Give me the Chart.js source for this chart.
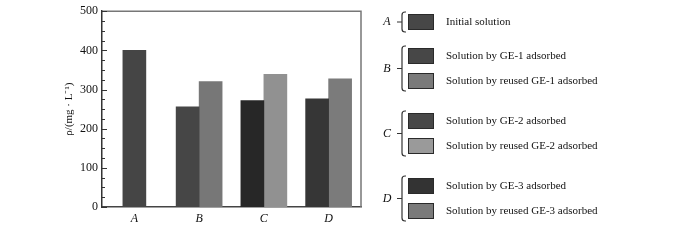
<!DOCTYPE html>
<html>
<head>
<meta charset="utf-8">
<script src="https://cdn.jsdelivr.net/npm/chart.js@4/dist/chart.umd.min.js"></script>
<style>
html, body { margin: 0; padding: 0; background: #fff; }
#wrap { width: 700px; height: 240px; }
</style>
</head>
<body>
<div id="wrap"><canvas id="chart" width="700" height="240"></canvas></div>
<script>
const categories = ['A', 'B', 'C', 'D'];
const adsorbedValues = [400, 256, 272, 276];
const reusedValues = [null, 320, 339, 327];
const adsorbedColors = ['#454545', '#464646', '#272727', '#363636'];
const reusedColors = [null, '#777777', '#919191', '#7b7b7b'];
const yTicks = [0, 100, 200, 300, 400, 500];
const legendLabels = [
    ['Initial solution'],
    ['Solution by GE-1 adsorbed', 'Solution by reused GE-1 adsorbed'],
    ['Solution by GE-2 adsorbed', 'Solution by reused GE-2 adsorbed'],
    ['Solution by GE-3 adsorbed', 'Solution by reused GE-3 adsorbed']
];
const legendSwatches = [
    ['#474747'],
    ['#474747', '#7a7a7a'],
    ['#484848', '#9a9a9a'],
    ['#333333', '#7a7a7a']
];

const serif = '"Liberation Serif", "Times New Roman", serif';

// inner tick marks, top/right frame and the bracketed legend on the right
const framePlugin = {
    id: 'frameAndLegend',
    afterDraw(chart) {
        const ctx = chart.ctx;
        const area = chart.chartArea;
        const y = chart.scales.y;
        ctx.save();

        ctx.strokeStyle = '#777';
        ctx.lineWidth = 1.5;
        ctx.beginPath();
        ctx.moveTo(area.left, area.top);
        ctx.lineTo(area.right, area.top);
        ctx.lineTo(area.right, area.bottom);
        ctx.stroke();

        ctx.strokeStyle = '#333';
        ctx.lineWidth = 1;
        for (let v = 0; v <= 500; v += 25) {
            const py = Math.round(y.getPixelForValue(v)) + 0.5;
            ctx.beginPath();
            ctx.moveTo(area.left, py);
            ctx.lineTo(area.left + (v % 100 === 0 ? 5 : 3), py);
            ctx.stroke();
        }

        const groupTops = [14, 48, 113, 178];
        legendLabels.forEach((labels, gi) => {
            const top = groupTops[gi];
            const bottom = top + (labels.length - 1) * 25 + 16;
            const mid = (top + bottom) / 2;

            ctx.strokeStyle = '#333';
            ctx.lineWidth = 1.2;
            ctx.beginPath();
            ctx.moveTo(406, top - 2);
            ctx.arcTo(402, top - 2, 402, top + 2, 3);
            ctx.lineTo(402, bottom - 2);
            ctx.arcTo(402, bottom + 2, 406, bottom + 2, 3);
            ctx.lineTo(406, bottom + 2);
            ctx.moveTo(402, mid);
            ctx.lineTo(397, mid);
            ctx.stroke();

            ctx.fillStyle = '#111';
            ctx.font = 'italic 12px ' + serif;
            ctx.textAlign = 'center';
            ctx.textBaseline = 'middle';
            ctx.fillText(categories[gi], 387, mid);

            labels.forEach((label, i) => {
                const sy = top + i * 25;
                ctx.fillStyle = legendSwatches[gi][i];
                ctx.fillRect(408, sy, 26, 16);
                ctx.strokeStyle = '#2a2a2a';
                ctx.lineWidth = 1;
                ctx.strokeRect(408.5, sy + 0.5, 25, 15);
                ctx.fillStyle = '#111';
                ctx.font = '11px ' + serif;
                ctx.textAlign = 'left';
                ctx.fillText(label, 446, sy + 8);
            });
        });
        ctx.restore();
    }
};

new Chart(document.getElementById('chart'), {
    type: 'bar',
    data: {
        labels: categories,
        datasets: [
            {
                data: adsorbedValues,
                backgroundColor: adsorbedColors,
                barThickness: 23,
                skipNull: true
            },
            {
                data: reusedValues,
                backgroundColor: reusedColors,
                barThickness: 23,
                skipNull: true
            }
        ]
    },
    options: {
        responsive: false,
        animation: false,
        layout: {
            padding: { left: 58, top: 11, right: 339, bottom: 0 }
        },
        plugins: {
            legend: { display: false },
            tooltip: { enabled: false }
        },
        scales: {
            x: {
                grid: { display: false, drawTicks: false },
                border: { color: '#444', width: 1.5 },
                ticks: {
                    padding: 5,
                    color: '#111',
                    font: { family: serif, size: 12, style: 'italic' }
                },
                afterFit(scale) { scale.height = 33; }
            },
            y: {
                min: 0,
                max: 500,
                afterBuildTicks(scale) {
                    scale.ticks = yTicks.map(v => ({ value: v }));
                },
                grid: { display: false, drawTicks: false },
                border: { color: '#333', width: 1.5 },
                ticks: {
                    padding: 4,
                    color: '#111',
                    font: { family: serif, size: 12 }
                },
                title: {
                    display: true,
                    text: 'ρ/(mg · L⁻¹)',
                    color: '#111',
                    padding: { top: 5, bottom: 0 },
                    font: { family: serif, size: 11 }
                },
                afterFit(scale) { scale.width = 44; }
            }
        }
    },
    plugins: [framePlugin]
});
</script>
</body>
</html>
